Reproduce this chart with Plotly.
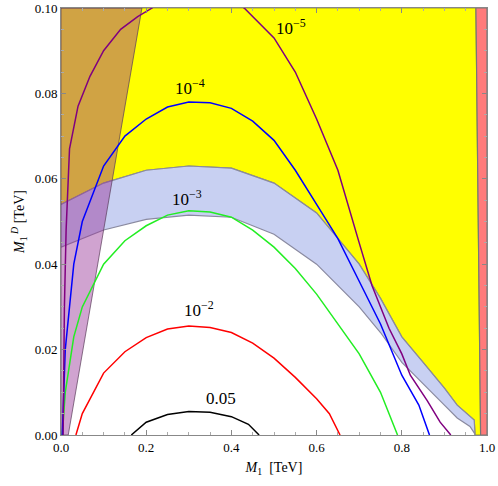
import plotly.graph_objects as go

band_x = [0, .1, .2, .3, .4, .5, .6, .7, .75, .8, .85, .9, .93, .96, .97, .972]
band_up = [.054, .059, .062, .063, .0625, .059, .052, .040, .032, .023, .017, .011, .007, .0045, .0035, 0]
band_lo = [.044, .048, .0505, .0515, .051, .047, .040, .030, .024, .017, .012, .007, .004, .002, .0005, 0]

red_x = [0.974, 1.0, 1.0, 0.985]
red_y = [0.1, 0.1, 0.0, 0.0]
wedge_x = [0.0, 0.19, 0.017, 0.0]
wedge_y = [0.1, 0.1, 0.0, 0.0]

c05_x = [.165, .2, .25, .3, .35, .4, .44, .465]
c05_y = [0, .003, .0048, .0055, .0053, .0043, .0025, 0]
c2_x = [.035, .05, .1, .15, .2, .25, .3, .35, .4, .45, .5, .55, .6, .63, .655]
c2_y = [0, .005, .0145, .0195, .0228, .0248, .0255, .0252, .024, .0215, .018, .0135, .0085, .005, 0]
c3_x = [.003, .01, .03, .05, .1, .15, .2, .25, .3, .35, .4, .45, .5, .55, .6, .65, .7, .75, .79]
c3_y = [0, .01, .023, .03, .04, .0455, .049, .0515, .0525, .0522, .051, .048, .044, .039, .033, .026, .019, .01, 0]
c4_x = [.003, .01, .03, .05, .1, .15, .2, .25, .3, .35, .4, .45, .5, .55, .6, .65, .7, .75, .8, .84, .865]
c4_y = [0, .02, .04, .05, .063, .07, .074, .0768, .078, .0778, .0765, .0735, .069, .062, .054, .046, .036, .026, .014, .007, 0]
c5_x = [.005, .008, .012, .016, .02, .04, .068, .1, .14, .18, .214, .3, .43, .5, .55, .6, .65, .7, .73, .77, .8, .82, .86, .89, .915]
c5_y = [0, .03, .048, .06, .067, .077, .084, .09, .095, .098, .1, .108, .1, .093, .085, .074, .062, .045, .035, .025, .019, .014, .008, .003, 0]

labels = ["0.05", "10<sup>−2</sup>", "10<sup>−3</sup>", "10<sup>−4</sup>", "10<sup>−5</sup>"]
lab_x = [0.375, 0.325, 0.295, 0.303, 0.54]
lab_y = [0.0085, 0.0295, 0.0555, 0.0815, 0.0955]

SERIF = "Liberation Serif"

fig = go.Figure()
fig.add_trace(go.Scatter(x=[0] + band_x + [0.972, 0.985, 0.974, 0], y=[band_up[0]] + band_up + [0, 0, 0.1, 0.1],
                         fill="toself", fillcolor="#ffff00", line=dict(color="#9a9a30", width=1.2), mode="lines", hoverinfo="skip"))
fig.add_trace(go.Scatter(x=band_x + band_x[::-1], y=band_up + band_lo[::-1], fill="toself",
                         fillcolor="rgba(190,200,240,0.85)", line=dict(color="#8a8aa0", width=1.2), mode="lines", hoverinfo="skip"))
fig.add_trace(go.Scatter(x=wedge_x + [wedge_x[0]], y=wedge_y + [wedge_y[0]], fill="toself",
                         fillcolor="rgba(150,50,150,0.45)", line=dict(color="rgba(90,60,90,0.7)", width=1), mode="lines", hoverinfo="skip"))
fig.add_trace(go.Scatter(x=red_x + [red_x[0]], y=red_y + [red_y[0]], fill="toself",
                         fillcolor="#ff7b7b", line=dict(color="#777", width=1.2), mode="lines", hoverinfo="skip"))
for xs, ys, col in [(c05_x, c05_y, "black"), (c2_x, c2_y, "red"), (c3_x, c3_y, "#22ee22"),
                    (c4_x, c4_y, "blue"), (c5_x, c5_y, "purple")]:
    fig.add_trace(go.Scatter(x=xs, y=ys, mode="lines", line=dict(color=col, width=1.5), hoverinfo="skip"))

for t, x, y in zip(labels, lab_x, lab_y):
    fig.add_annotation(x=x, y=y, text=t, showarrow=False, font=dict(family=SERIF, size=17, color="black"))

ax = dict(showgrid=False, zeroline=False, ticks="inside", ticklen=5, tickcolor="#888", mirror="allticks",
          showline=True, linecolor="#888", linewidth=1, automargin=False,
          minor=dict(ticks="inside", ticklen=3, tickcolor="#aaa"))
fig.update_xaxes(**ax, range=[0, 1], tick0=0, dtick=0.2, tickformat=".1f", minor_dtick=0.05,
                 title=dict(text="<i>M</i><sub>1</sub>  [TeV]", font=dict(family=SERIF, size=14, color="black"), standoff=8))
fig.update_yaxes(**ax, range=[0, 0.1], tick0=0, dtick=0.02, tickformat=".2f", minor_dtick=0.005,
                 title=dict(text="<i>M</i><sub>1</sub><sup> <i>D</i></sup> [TeV]", font=dict(family=SERIF, size=14, color="black"), standoff=6))
fig.update_xaxes(tickfont=dict(family=SERIF, size=13, color="#000000"))
fig.update_yaxes(tickfont=dict(family=SERIF, size=13, color="#000000"))
fig.update_layout(width=498, height=486, margin=dict(l=61, r=11, t=8, b=51), showlegend=False,
                  plot_bgcolor="white", paper_bgcolor="white", font=dict(family=SERIF, color="black"))
fig.write_html("out.html", config={"displayModeBar": False},
               post_script="document.body.style.margin='0';document.body.style.overflow='hidden';")
